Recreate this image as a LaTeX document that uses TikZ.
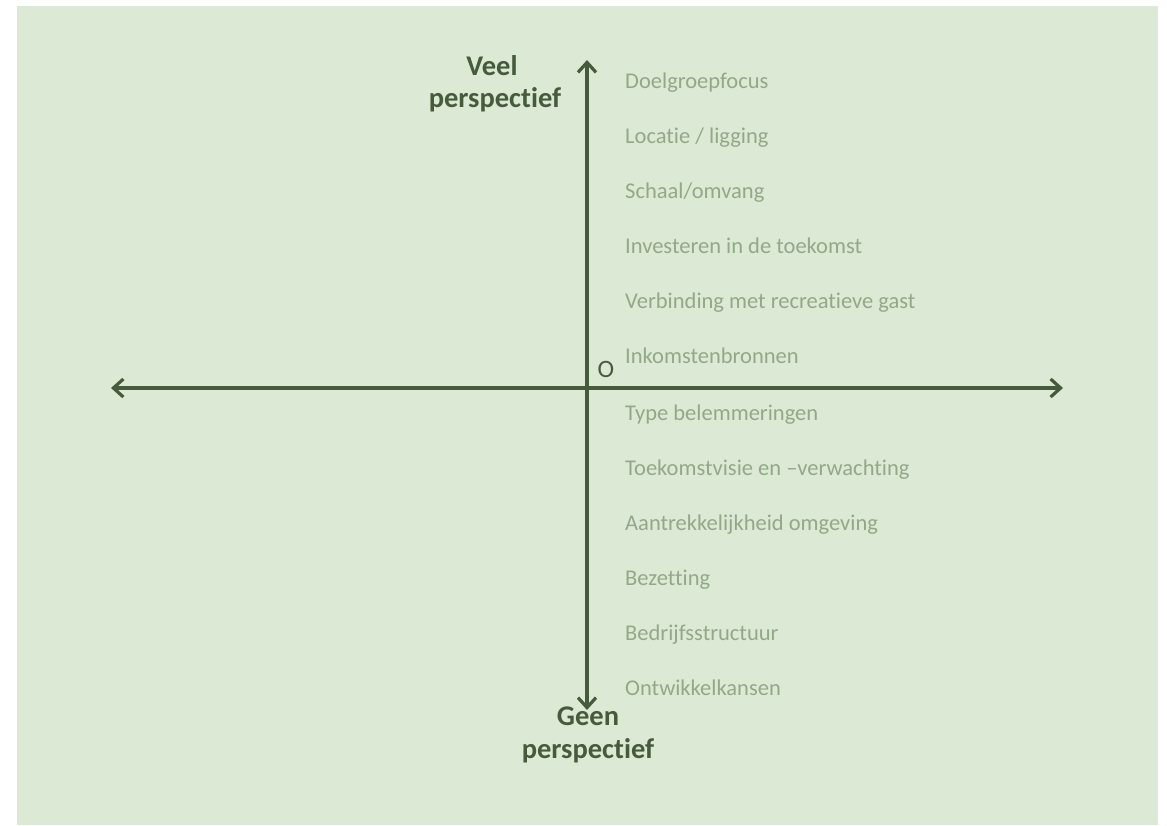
\documentclass[tikz,border=0pt]{standalone}
\usepackage{fontspec}
\setmainfont[Ligatures={NoCommon}]{Carlito}
\usetikzlibrary{arrows.meta}
\definecolor{bgG}{HTML}{DCE9D5}
\definecolor{axisG}{HTML}{465B3B}
\definecolor{itemG}{HTML}{93A889}
\tikzset{
  axis/.style={draw=axisG, line width=3.2pt, -{Straight Barb[length=10pt,width=18pt,line width=3.2pt]}},
  item/.style={anchor=base west, text=itemG, font=\fontsize{22.5}{26}\selectfont, inner sep=0pt},
  pole/.style={anchor=base, text=axisG, font=\fontsize{28.5}{32}\selectfont\bfseries, inner sep=0pt}
}
\begin{document}
\begin{tikzpicture}[x=1pt,y=-1pt]
\useasboundingbox (0,0) rectangle (1167,825);
\fill[bgG] (17,6) rectangle (1158,825);
\coordinate (o) at (587,388);
\coordinate (xl) at (111,388);
\coordinate (xr) at (1063,388);
\coordinate (yt) at (587,60);
\coordinate (yb) at (587,710);
\draw[axis] (o) -- (xl);
\draw[axis] (o) -- (xr);
\draw[axis] (o) -- (yt);
\draw[axis] (o) -- (yb);
\node[pole] (veel) at (492,75) {Veel};
\node[pole] (veelp) at (495,107) {perspectief};
\node[pole] (geen) at (588,725) {Geen};
\node[pole] (geenp) at (588,758) {perspectief};
\node[anchor=base, text=axisG, font=\fontsize{25}{28}\selectfont, inner sep=0pt] (O) at (606,377) {O};
\node[item] (i1) at (625,88) {Doelgroepfocus};
\node[item] (i2) at (625,143) {Locatie / ligging};
\node[item] (i3) at (625,198) {Schaal/omvang};
\node[item] (i4) at (625,253) {Investeren in de toekomst};
\node[item] (i5) at (625,308) {Verbinding met recreatieve gast};
\node[item] (i6) at (625,363) {Inkomstenbronnen};
\node[item] (i7) at (625,420) {Type belemmeringen};
\node[item] (i8) at (625,475) {Toekomstvisie en –verwachting};
\node[item] (i9) at (625,530) {Aantrekkelijkheid omgeving};
\node[item] (i10) at (625,585) {Bezetting};
\node[item] (i11) at (625,640) {Bedrijfsstructuur};
\node[item] (i12) at (625,695) {Ontwikkelkansen};
\end{tikzpicture}
\end{document}
